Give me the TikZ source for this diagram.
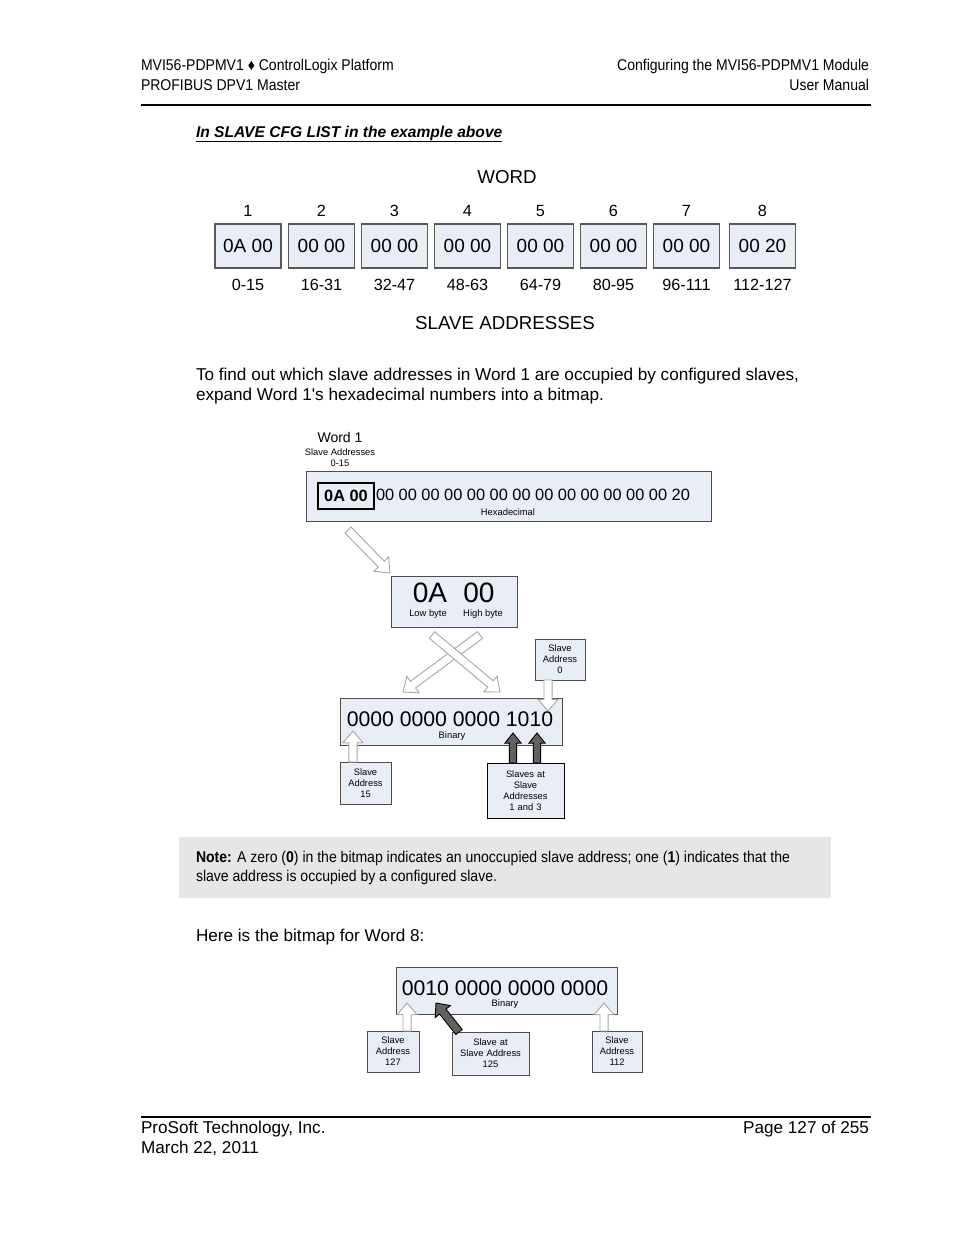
\documentclass[tikz,border=0pt]{standalone}
\usepackage{fontspec}
\setmainfont{Liberation Sans}
\newfontfamily\narrowfont{Liberation Sans}[FakeStretch=0.9]
\usetikzlibrary{calc}
\definecolor{boxblue}{HTML}{E8EDF6}
\definecolor{notegray}{HTML}{E6E6E6}
\newcommand\pxu{0.6415pt}
\newcommand\fs[1]{\fontsize{#1}{#1}\selectfont}
% block arrow: style, from, to, half shaft, half head, head length
\newcommand\barrow[6]{%
 \path[#1] let \p1=($(#3)-(#2)$), \n1={atan2(\y1,\x1)} in
  ($(#2)+(\n1+90:#4)$) -- ($(#3)!#6!(#2)+(\n1+90:#4)$) -- ($(#3)!#6!(#2)+(\n1+90:#5)$) -- (#3)
  -- ($(#3)!#6!(#2)+(\n1-90:#5)$) -- ($(#3)!#6!(#2)+(\n1-90:#4)$) -- ($(#2)+(\n1-90:#4)$) -- cycle;}
\begin{document}
\begin{tikzpicture}[x=\pxu,y=-\pxu,
  every node/.style={inner sep=0pt, outer sep=0pt},
  hdr/.style={font=\narrowfont\fs{10}},
  body/.style={font=\fs{11}},
  wbox/.style={draw=gray!70!black, line width={1.6*\pxu}, fill=boxblue, minimum width={66*\pxu}, minimum height={44*\pxu}, font=\fs{12.2}},
  lbl/.style={font=\fs{10.4}, text height=7.6pt, text depth=0pt},
  big/.style={font=\fs{12}},
  dbox/.style={draw=gray!60!black, line width={1*\pxu}, fill=boxblue},
  small/.style={font=\fs{6}, align=center},
  sbox/.style={draw=gray!60!black, line width={1*\pxu}, fill=boxblue, font=\fontsize{6}{7}\selectfont, align=center, text width={48*\pxu}},
  hollow/.style={draw=gray!70, fill=white, line width={0.9*\pxu}},
  dark/.style={draw=black, fill=black!62, line width={0.9*\pxu}}]
\useasboundingbox (0,0) rectangle (954,1235);
% header
\node[hdr, anchor=west] (h1) at (141,66) {MVI56-PDPMV1 ♦ ControlLogix Platform};
\node[hdr, anchor=west] (h2) at (141,85) {PROFIBUS DPV1 Master};
\node[hdr, anchor=east] (h3) at (869,66) {Configuring the MVI56-PDPMV1 Module};
\node[hdr, anchor=east] (h4) at (869,85) {User Manual};
\draw[line width={1.1*\pxu}] (141,105) -- (871,105);
% heading
\node[anchor=west, font=\fs{10}\bfseries\itshape] (hd) at (196,133) {In SLAVE CFG LIST in the example above};
\draw[line width={1*\pxu}] ([yshift=-2.6pt]hd.base west) -- ([yshift=-2.6pt]hd.base east);
% diagram 1
\node[big] (word) at (507,177) {WORD};
\foreach \i/\x/\v/\r in {1/248/0A 00/0-15, 2/321.5/00 00/16-31, 3/394.5/00 00/32-47, 4/467.5/00 00/48-63, 5/540.5/00 00/64-79, 6/613.5/00 00/80-95, 7/686.5/00 00/96-111, 8/762.5/00 20/112-127}{
  \node[lbl] (n\i) at (\x,211) {\i};
  \node[wbox] (w\i) at (\x,246) {\v};
  \node[lbl] (r\i) at (\x,285) {\r};
}
\node[big] (sla) at (505,323) {SLAVE ADDRESSES};
% paragraph
\node[body, anchor=west] (p1) at (196,376) {To find out which slave addresses in Word 1 are occupied by configured slaves,};
\node[body, anchor=west] (p2) at (196,396) {expand Word 1\textquotesingle s hexadecimal numbers into a bitmap.};
% diagram 2
\node[font=\fs{9}] (wd1) at (340,437) {Word 1};
\node[small] (wd1a) at (340,452) {Slave Addresses};
\node[small] (wd1b) at (340,463) {0-15};
\node[dbox, minimum width={405*\pxu}, minimum height={50*\pxu}] (hex) at (508.5,496) {};
\node[draw=black, line width={1.5*\pxu}, fill=boxblue, minimum width={56*\pxu}, minimum height={26*\pxu}, font=\fs{10.5}\bfseries] (hb) at (346,496) {0A 00};
\node[anchor=west, font=\fs{10.5}] (hrest) at (376,495) {00 00 00 00 00 00 00 00 00 00 00 00 00 20};
\node[small] (hexl) at (508,512) {Hexadecimal};
\node[dbox, minimum width={126*\pxu}, minimum height={51*\pxu}] (lh) at (454,601.5) {};
\node[font=\fs{18}] (lo) at (430,593) {0A};
\node[font=\fs{18}] (hi) at (479,593) {00};
\node[small] (lol) at (428,614) {Low byte};
\node[small] (hil) at (483,614) {High byte};
\node[sbox, minimum width={50*\pxu}, minimum height={41*\pxu}, text width={46*\pxu}] (sa0) at (560,659.5) {Slave\\Address\\0};
\node[dbox, minimum width={222*\pxu}, minimum height={47*\pxu}] (bin) at (451,721.5) {};
\node[font=\fs{13.6}] (bint) at (450,719) {0000 0000 0000 1010};
\node[small] (binl) at (452,736) {Binary};
\node[sbox, minimum width={51*\pxu}, minimum height={42*\pxu}] (sa15) at (365.5,783) {Slave\\Address\\15};
\node[sbox, draw=black, minimum width={77*\pxu}, minimum height={55*\pxu}, text width={72*\pxu}] (sa13) at (525.5,790.5) {Slaves at\\Slave\\Addresses\\1 and 3};
% arrow anchors
\coordinate (a1s) at (348,530); \coordinate (a1e) at (390,573);
\coordinate (c1s) at (480,635); \coordinate (c1e) at (403,692);
\coordinate (c2s) at (432,635); \coordinate (c2e) at (500,692);
\coordinate (a0e) at (548,711);
\coordinate (a15e) at (353,731);
\coordinate (d1s) at (513,763); \coordinate (d1e) at (513,733);
\coordinate (d2s) at (537,763); \coordinate (d2e) at (537,733);
\barrow{hollow}{a1s}{a1e}{2.7pt}{6.6pt}{8pt}
\barrow{hollow}{c1s}{c1e}{2.7pt}{6.6pt}{8pt}
\barrow{hollow}{c2s}{c2e}{2.7pt}{6.6pt}{8pt}
\barrow{hollow}{sa0.south -| a0e}{a0e}{2.6pt}{6.4pt}{7.5pt}
\barrow{hollow}{sa15.north -| a15e}{a15e}{2.6pt}{6.4pt}{7.5pt}
\barrow{dark}{d1s}{d1e}{2.3pt}{5.2pt}{6.5pt}
\barrow{dark}{d2s}{d2e}{2.3pt}{5.2pt}{6.5pt}
% note
\fill[notegray] (179,837) rectangle (831,898);
\node[hdr, anchor=west] (note1) at (196,858) {\textbf{Note:} A zero (\textbf{0}) in the bitmap indicates an unoccupied slave address; one (\textbf{1}) indicates that the};
\node[hdr, anchor=west] (note2) at (196,877) {slave address is occupied by a configured slave.};
\node[body, anchor=west] (p3) at (196,937) {Here is the bitmap for Word 8:};
% diagram 3
\node[dbox, minimum width={221*\pxu}, minimum height={47*\pxu}] (bin2) at (506.5,990.5) {};
\node[font=\fs{13.6}] (bin2t) at (505,988) {0010 0000 0000 0000};
\node[small] (bin2l) at (505,1004) {Binary};
\node[sbox, minimum width={52*\pxu}, minimum height={41*\pxu}] (sa127) at (393,1051.5) {Slave\\Address\\127};
\node[sbox, minimum width={77*\pxu}, minimum height={43*\pxu}, text width={74*\pxu}] (sa125) at (490.5,1053.5) {Slave at\\Slave Address\\125};
\node[sbox, minimum width={50*\pxu}, minimum height={41*\pxu}] (sa112) at (617,1051.5) {Slave\\Address\\112};
\coordinate (e127) at (407,1003);
\coordinate (e112) at (604,1003);
\coordinate (s125) at (459,1032); \coordinate (e125) at (436,1003);
\barrow{hollow}{sa127.north -| e127}{e127}{2.6pt}{6.4pt}{7.5pt}
\barrow{hollow}{sa112.north -| e112}{e112}{2.6pt}{6.4pt}{7.5pt}
\barrow{dark}{s125}{e125}{2.6pt}{6.2pt}{7pt}
% footer
\draw[line width={1.1*\pxu}] (141,1117) -- (871,1117);
\node[body, anchor=west] (f1) at (141,1129) {ProSoft Technology, Inc.};
\node[body, anchor=west] (f2) at (141,1148) {March 22, 2011};
\node[body, anchor=east] (f3) at (869,1129) {Page 127 of 255};
\end{tikzpicture}
\end{document}
